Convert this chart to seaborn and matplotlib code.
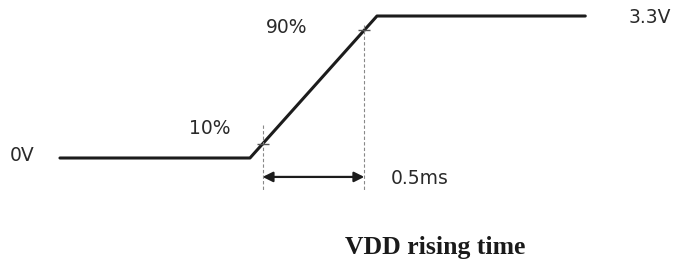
import numpy as np
import pandas as pd
import matplotlib
matplotlib.use("Agg")
import matplotlib.pyplot as plt
import seaborn as sns

# VDD power-up waveform (time in ms, voltage in V)
time_ms = [-0.935, 0.0, 0.625, 1.65]
vdd_v = [0.0, 0.0, 3.3, 3.3]
t10 = 0.0625   # 10% crossing
t90 = 0.5625   # 90% crossing (0.5 ms later)
v_low = 0.0
v_high = 3.3

df = pd.DataFrame({'time': time_ms, 'vdd': vdd_v})

sns.set_theme(style="white")
plt.rcParams['font.family'] = ['DejaVu Sans']

fig = plt.figure(figsize=(6.75, 2.66), dpi=100)
ax = fig.add_axes([0, 0, 1, 1])

sns.lineplot(data=df, x='time', y='vdd', ax=ax, color='#1c1c1c', lw=2.2,
             sort=False, estimator=None)

# dashed guides at 10% and 90%
ax.plot([t10, t10], [0.77, -0.74], color='#888888', lw=0.8, ls=(0, (3, 2)))
ax.plot([t90, t90], [3.09, -0.74], color='#888888', lw=0.8, ls=(0, (3, 2)))

# small marks at the crossing points
v10 = v_low + 0.1 * (v_high - v_low)
v90 = v_low + 0.9 * (v_high - v_low)
ax.plot([t10, t90], [v10, v90], ls='none', marker='_', ms=9, mew=1.0, color='#555555')

# 0.5ms arrow
ax.annotate('', xy=(t10, -0.44), xytext=(t90, -0.44),
            arrowprops=dict(arrowstyle='<|-|>', color='#1c1c1c', lw=1.6,
                            mutation_scale=15, shrinkA=0, shrinkB=0))

txt = dict(color='#2a2a2a', fontsize=13.5, ha='center', va='center')
ax.text(-1.122, 0.05, '0V', **txt)
ax.text(-0.197, 0.674, '10%', **txt)
ax.text(0.182, 3.044, '90%', **txt)
ax.text(1.968, 3.254, '3.3V', **txt)
ax.text(0.837, -0.465, '0.5ms', **txt)

fig.text(0.644, 0.071, 'VDD rising time', family=['Liberation Serif', 'DejaVu Serif'],
         fontweight='bold', fontsize=18.5, color='#1a1a1a', ha='center', va='center')

ax.set_xlim(-1.230, 2.0915)
ax.set_ylim(-2.510, 3.672)
ax.set_axis_off()

fig.savefig('out.png', dpi=100, facecolor='white')
